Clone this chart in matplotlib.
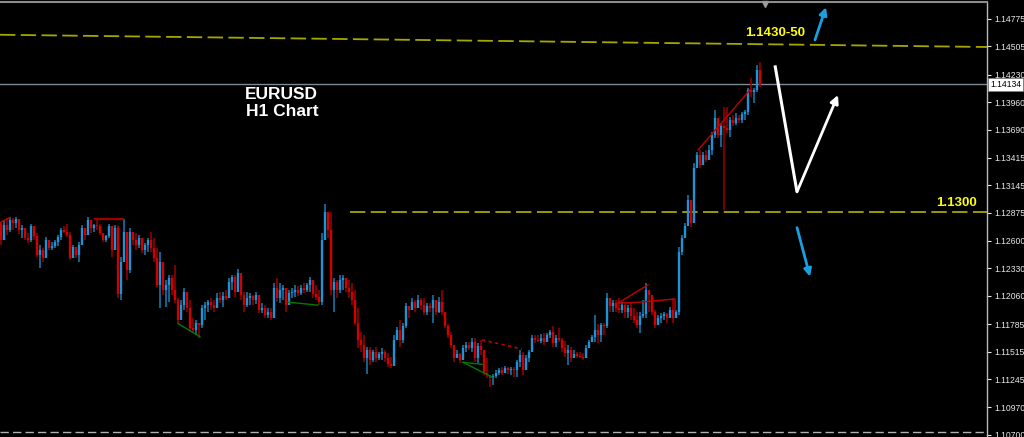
import matplotlib
matplotlib.use("Agg")
import matplotlib.pyplot as plt
import matplotlib.transforms as mtransforms
import numpy as np

plt.rcParams['font.family'] = ['Liberation Sans', 'DejaVu Sans']

# ---------------- data (EURUSD H1) ----------------
highs = [
    1.1278, 1.1280, 1.1282, 1.1283, 1.1282, 1.1283, 1.1278, 1.1276, 1.1271, 1.1268,
    1.1277, 1.1271, 1.1268, 1.1256, 1.1253, 1.1264, 1.1258, 1.1259, 1.1261, 1.1266,
    1.1273, 1.1275, 1.1277, 1.1269, 1.1256, 1.1253, 1.1259, 1.1276, 1.1273, 1.1283,
    1.1280, 1.1277, 1.1280, 1.1277, 1.1268, 1.1266, 1.1277, 1.1273, 1.1276, 1.1276,
    1.1244, 1.1281, 1.1263, 1.1273, 1.1268, 1.1268, 1.1266, 1.1261, 1.1258, 1.1263,
    1.1269, 1.1263, 1.1253, 1.1249, 1.1229, 1.1222, 1.1227, 1.1227, 1.1236, 1.1204,
    1.1202, 1.1214, 1.1210, 1.1202, 1.1184, 1.1182, 1.1180, 1.1197, 1.1200, 1.1202,
    1.1204, 1.1202, 1.1209, 1.1210, 1.1210, 1.1212, 1.1224, 1.1227, 1.1227, 1.1232,
    1.1227, 1.1210, 1.1210, 1.1209, 1.1207, 1.1210, 1.1202, 1.1199, 1.1197, 1.1194,
    1.1194, 1.1219, 1.1224, 1.1219, 1.1217, 1.1210, 1.1212, 1.1214, 1.1217, 1.1216,
    1.1217, 1.1219, 1.1219, 1.1225, 1.1220, 1.1217, 1.1212, 1.1268, 1.1296, 1.1285,
    1.1288, 1.1224, 1.1222, 1.1227, 1.1227, 1.1224, 1.1222, 1.1219, 1.1212, 1.1194,
    1.1171, 1.1168, 1.1156, 1.1156, 1.1153, 1.1156, 1.1151, 1.1155, 1.1153, 1.1150,
    1.1146, 1.1168, 1.1176, 1.1182, 1.1180, 1.1199, 1.1194, 1.1204, 1.1202, 1.1207,
    1.1204, 1.1204, 1.1199, 1.1199, 1.1207, 1.1200, 1.1205, 1.1212, 1.1184, 1.1179,
    1.1171, 1.1155, 1.1153, 1.1150, 1.1158, 1.1161, 1.1161, 1.1165, 1.1165, 1.1160,
    1.1163, 1.1153, 1.1145, 1.1129, 1.1130, 1.1133, 1.1135, 1.1136, 1.1137, 1.1136,
    1.1136, 1.1136, 1.1143, 1.1153, 1.1151, 1.1148, 1.1153, 1.1168, 1.1168, 1.1168,
    1.1169, 1.1170, 1.1170, 1.1173, 1.1177, 1.1168, 1.1175, 1.1165, 1.1162, 1.1158,
    1.1156, 1.1153, 1.1151, 1.1151, 1.1150, 1.1158, 1.1163, 1.1168, 1.1187, 1.1179,
    1.1180, 1.1180, 1.1209, 1.1204, 1.1202, 1.1202, 1.1204, 1.1200, 1.1199, 1.1197,
    1.1199, 1.1194, 1.1190, 1.1190, 1.1202, 1.1219, 1.1212, 1.1202, 1.1192, 1.1187,
    1.1189, 1.1190, 1.1189, 1.1195, 1.1204, 1.1192, 1.1254, 1.1266, 1.1278, 1.1305,
    1.1300, 1.1336, 1.1347, 1.1349, 1.1347, 1.1349, 1.1354, 1.1367, 1.1388, 1.1374,
    1.1376, 1.1391, 1.1391, 1.1381, 1.1383, 1.1385, 1.1383, 1.1386, 1.1388, 1.1410,
    1.1420, 1.1410, 1.1432, 1.1435,
]
lows = [
    1.1256, 1.1265, 1.1266, 1.1269, 1.1271, 1.1273, 1.1267, 1.1263, 1.1261, 1.1258,
    1.1259, 1.1261, 1.1244, 1.1233, 1.1239, 1.1251, 1.1251, 1.1251, 1.1253, 1.1255,
    1.1261, 1.1268, 1.1264, 1.1241, 1.1243, 1.1243, 1.1239, 1.1256, 1.1261, 1.1269,
    1.1268, 1.1269, 1.1271, 1.1266, 1.1259, 1.1259, 1.1263, 1.1244, 1.1261, 1.1204,
    1.1202, 1.1239, 1.1222, 1.1229, 1.1256, 1.1251, 1.1253, 1.1248, 1.1246, 1.1249,
    1.1249, 1.1239, 1.1215, 1.1194, 1.1207, 1.1195, 1.1200, 1.1207, 1.1199, 1.1179,
    1.1184, 1.1192, 1.1190, 1.1171, 1.1170, 1.1168, 1.1165, 1.1175, 1.1182, 1.1190,
    1.1192, 1.1190, 1.1197, 1.1199, 1.1195, 1.1202, 1.1204, 1.1212, 1.1205, 1.1210,
    1.1202, 1.1190, 1.1195, 1.1197, 1.1197, 1.1198, 1.1189, 1.1189, 1.1184, 1.1184,
    1.1182, 1.1189, 1.1200, 1.1199, 1.1202, 1.1190, 1.1200, 1.1204, 1.1205, 1.1206,
    1.1207, 1.1209, 1.1210, 1.1210, 1.1204, 1.1202, 1.1197, 1.1197, 1.1261, 1.1263,
    1.1207, 1.1190, 1.1204, 1.1209, 1.1212, 1.1210, 1.1204, 1.1197, 1.1178, 1.1155,
    1.1151, 1.1141, 1.1130, 1.1138, 1.1141, 1.1141, 1.1143, 1.1143, 1.1141, 1.1136,
    1.1135, 1.1138, 1.1163, 1.1156, 1.1160, 1.1175, 1.1184, 1.1192, 1.1190, 1.1194,
    1.1192, 1.1187, 1.1187, 1.1190, 1.1180, 1.1187, 1.1189, 1.1187, 1.1175, 1.1165,
    1.1155, 1.1141, 1.1145, 1.1140, 1.1145, 1.1151, 1.1153, 1.1151, 1.1141, 1.1140,
    1.1148, 1.1129, 1.1126, 1.1117, 1.1119, 1.1126, 1.1129, 1.1129, 1.1131, 1.1130,
    1.1129, 1.1127, 1.1127, 1.1136, 1.1129, 1.1138, 1.1141, 1.1151, 1.1160, 1.1161,
    1.1160, 1.1158, 1.1163, 1.1165, 1.1156, 1.1156, 1.1161, 1.1151, 1.1146, 1.1138,
    1.1141, 1.1145, 1.1145, 1.1145, 1.1143, 1.1145, 1.1155, 1.1161, 1.1161, 1.1160,
    1.1161, 1.1168, 1.1175, 1.1190, 1.1190, 1.1190, 1.1189, 1.1189, 1.1184, 1.1184,
    1.1182, 1.1180, 1.1175, 1.1170, 1.1184, 1.1184, 1.1190, 1.1187, 1.1175, 1.1180,
    1.1180, 1.1182, 1.1180, 1.1184, 1.1180, 1.1184, 1.1187, 1.1246, 1.1266, 1.1278,
    1.1274, 1.1278, 1.1331, 1.1331, 1.1334, 1.1337, 1.1344, 1.1344, 1.1361, 1.1361,
    1.1352, 1.1290, 1.1366, 1.1362, 1.1373, 1.1374, 1.1376, 1.1376, 1.1378, 1.1383,
    1.1401, 1.1395, 1.1406, 1.1411,
]
closes = [
    1.1261, 1.1276, 1.1271, 1.1280, 1.1278, 1.1281, 1.1271, 1.1273, 1.1263, 1.1261,
    1.1275, 1.1265, 1.1246, 1.1251, 1.1243, 1.1261, 1.1253, 1.1255, 1.1259, 1.1264,
    1.1271, 1.1269, 1.1266, 1.1243, 1.1254, 1.1246, 1.1256, 1.1273, 1.1266, 1.1280,
    1.1273, 1.1276, 1.1275, 1.1268, 1.1261, 1.1265, 1.1275, 1.1251, 1.1273, 1.1208,
    1.1239, 1.1269, 1.1231, 1.1269, 1.1261, 1.1256, 1.1263, 1.1251, 1.1256, 1.1261,
    1.1253, 1.1243, 1.1217, 1.1239, 1.1212, 1.1217, 1.1224, 1.1212, 1.1202, 1.1182,
    1.1197, 1.1210, 1.1194, 1.1175, 1.1173, 1.1180, 1.1178, 1.1194, 1.1197, 1.1200,
    1.1197, 1.1194, 1.1204, 1.1202, 1.1206, 1.1204, 1.1220, 1.1225, 1.1210, 1.1229,
    1.1207, 1.1197, 1.1204, 1.1206, 1.1202, 1.1207, 1.1192, 1.1194, 1.1187, 1.1190,
    1.1184, 1.1214, 1.1204, 1.1212, 1.1214, 1.1197, 1.1209, 1.1210, 1.1212, 1.1209,
    1.1214, 1.1212, 1.1217, 1.1222, 1.1208, 1.1205, 1.1200, 1.1261, 1.1288, 1.1271,
    1.1212, 1.1220, 1.1212, 1.1222, 1.1224, 1.1214, 1.1210, 1.1202, 1.1180, 1.1163,
    1.1158, 1.1145, 1.1153, 1.1143, 1.1151, 1.1145, 1.1149, 1.1151, 1.1145, 1.1139,
    1.1137, 1.1163, 1.1173, 1.1163, 1.1177, 1.1196, 1.1192, 1.1200, 1.1194, 1.1202,
    1.1197, 1.1190, 1.1196, 1.1194, 1.1202, 1.1190, 1.1200, 1.1190, 1.1177, 1.1168,
    1.1158, 1.1145, 1.1149, 1.1143, 1.1155, 1.1158, 1.1155, 1.1161, 1.1145, 1.1157,
    1.1153, 1.1131, 1.1129, 1.1126, 1.1128, 1.1131, 1.1133, 1.1131, 1.1135, 1.1133,
    1.1134, 1.1133, 1.1141, 1.1148, 1.1133, 1.1145, 1.1151, 1.1165, 1.1163, 1.1162,
    1.1165, 1.1161, 1.1168, 1.1171, 1.1160, 1.1165, 1.1163, 1.1155, 1.1150, 1.1153,
    1.1145, 1.1149, 1.1147, 1.1146, 1.1145, 1.1155, 1.1161, 1.1166, 1.1173, 1.1168,
    1.1178, 1.1177, 1.1204, 1.1196, 1.1199, 1.1194, 1.1192, 1.1197, 1.1190, 1.1194,
    1.1186, 1.1182, 1.1178, 1.1186, 1.1188, 1.1212, 1.1207, 1.1190, 1.1178, 1.1184,
    1.1186, 1.1188, 1.1184, 1.1192, 1.1184, 1.1190, 1.1249, 1.1263, 1.1275, 1.1300,
    1.1278, 1.1331, 1.1344, 1.1334, 1.1344, 1.1339, 1.1349, 1.1364, 1.1380, 1.1364,
    1.1373, 1.1371, 1.1369, 1.1378, 1.1376, 1.1380, 1.1378, 1.1384, 1.1386, 1.1408,
    1.1406, 1.1408, 1.1427, 1.1413,
]
first_open = 1.1278

tick_values = [1.10700, 1.10970, 1.11245, 1.11515, 1.11785, 1.12060, 1.12330, 1.12600,
               1.12875, 1.13145, 1.13415, 1.13690, 1.13960, 1.14230, 1.14505, 1.14775]
current_price = 1.14134
title_lines = ["EURUSD", "H1 Chart"]
resistance_label = "1.1430-50"
support_label = "1.1300"
support_level = 1.1288
upper_line = (1.1462, 1.1450)
bottom_level = 1.10725

# ---------------- figure ----------------
n = min(len(highs), len(lows), len(closes))
H = np.array(highs[:n]); L = np.array(lows[:n]); C = np.array(closes[:n])
O = np.concatenate([[first_open], C[:-1]])
x = np.arange(n)

fig = plt.figure(figsize=(10.24, 4.37), dpi=100, facecolor='black')
ax = fig.add_axes([0, 0, 987 / 1024, 435 / 437])
ax.set_facecolor('black')
ax.set_xlim(-1 / 3, 986 / 3)
ax.set_ylim(1.10678, 1.14941)

up = C >= O
body_col = np.where(up, '#1c95d8', '#d40000')
wick_col = np.where(up, '#157fb6', '#a00000')
ax.vlines(x, L, H, colors=wick_col, linewidth=1.1, zorder=3)
blo = np.minimum(O, C); bhi = np.maximum(O, C)
bhi = np.maximum(bhi, blo + 0.00006)
ax.vlines(x, blo, bhi, colors=body_col, linewidth=1.7, zorder=4)

def px(xp):
    return (xp - 1) / 3.0

# dashed levels
dash_kw = dict(color='#a6a600', linewidth=1.3, dashes=(8.5, 3.0), zorder=2)
ax.plot([px(0), px(987)], list(upper_line), **dash_kw)
ax.plot([px(350), px(987)], [support_level, support_level], **dash_kw)
ax.plot([px(0), px(987)], [bottom_level, bottom_level], color='#b0b0b0',
        linewidth=1.0, dashes=(6, 3), zorder=2)
ax.axhline(current_price, color='#7d8a96', linewidth=1.0, zorder=2)

# zigzag / pattern lines
red = '#c00000'; green = '#007a00'
ax.plot([px(0), px(10)], [1.1278, 1.1283], color=red, lw=1.0, zorder=5)
ax.plot([px(95), px(123)], [1.1281, 1.1281], color='#a00000', lw=1.6, zorder=5)
ax.plot([px(178), px(200)], [1.1179, 1.1166], color=green, lw=1.0, zorder=5)
ax.plot([px(288), px(318)], [1.1200, 1.1197], color=green, lw=1.0, zorder=5)
ax.plot([px(463), px(482)], [1.1141, 1.1139], color=green, lw=1.0, zorder=5)
ax.plot([px(463), px(493)], [1.1141, 1.1126], color=green, lw=1.0, zorder=5)
ax.plot([px(482), px(522)], [1.1163, 1.1154], color=red, lw=1.2, dashes=(2, 2), zorder=5)
ax.plot([px(618), px(648)], [1.1199, 1.1217], color=red, lw=1.0, zorder=5)
ax.plot([px(618), px(640), px(675), px(675)], [1.1199, 1.1200, 1.1203, 1.1192],
        color=red, lw=1.0, zorder=5)
ax.plot([px(698), px(750)], [1.1349, 1.1408], color=red, lw=1.0, zorder=5)

# arrows
ax.plot([px(775), px(797)], [1.1432, 1.1308], color='white', lw=2.2,
        solid_capstyle='butt', zorder=6)
ax.annotate('', xy=(px(838), 1.1403), xytext=(px(797), 1.1308),
            arrowprops=dict(arrowstyle='-|>', color='white', lw=2.0,
                            mutation_scale=12, shrinkA=0, shrinkB=0), zorder=6)
blue = '#1a9fe0'
ax.annotate('', xy=(px(826), 1.1489), xytext=(px(815), 1.1457),
            arrowprops=dict(arrowstyle='-|>', color=blue, lw=2.0,
                            mutation_scale=11, shrinkA=0, shrinkB=0), zorder=6)
ax.annotate('', xy=(px(810), 1.1225), xytext=(px(797), 1.1273),
            arrowprops=dict(arrowstyle='-|>', color=blue, lw=2.0,
                            mutation_scale=11, shrinkA=0, shrinkB=0), zorder=6)

# texts
ax.text(px(281), 1.14030, title_lines[0], color='white', fontsize=12.5,
        fontweight='bold', ha='center', va='center', zorder=7)
ax.text(px(282), 1.13865, title_lines[1], color='white', fontsize=12.5,
        fontweight='bold', ha='center', va='center', zorder=7)
ax.text(px(775), 1.14633, resistance_label, color='#ffff00', fontsize=9.5,
        fontweight='bold', ha='center', va='center', zorder=7)
ax.text(px(977), 1.12967, support_label, color='#ffff00', fontsize=9.5,
        fontweight='bold', ha='right', va='center', zorder=7)

# chart shift marker
ax.plot([px(765)], [1.14922], marker='v', color='#9a9a9a', markersize=5,
        clip_on=False, zorder=8)

# axes styling
for s in ['left', 'bottom']:
    ax.spines[s].set_visible(False)
ax.spines['right'].set_color('#b8b8b8')
ax.spines['right'].set_linewidth(1.0)
ax.spines['top'].set_color('#8c8c8c')
ax.spines['top'].set_linewidth(1.5)
ax.set_xticks([])
ax.yaxis.tick_right()
ax.set_yticks(tick_values)
ax.set_yticklabels([f"{v:.5f}" for v in tick_values])
ax.tick_params(axis='y', colors='#e8e8e8', length=3, width=0.8, labelsize=6.2, pad=2)

trans = mtransforms.blended_transform_factory(ax.transAxes, ax.transData)
ax.text(1.003, current_price, f"{current_price:.5f}", transform=trans, ha='left',
        va='center', fontsize=6.2, color='black', zorder=9, clip_on=False,
        bbox=dict(boxstyle='square,pad=0.25', facecolor='white', edgecolor='#808080', lw=0.5))

fig.savefig('out.png', dpi=100, facecolor='black')
